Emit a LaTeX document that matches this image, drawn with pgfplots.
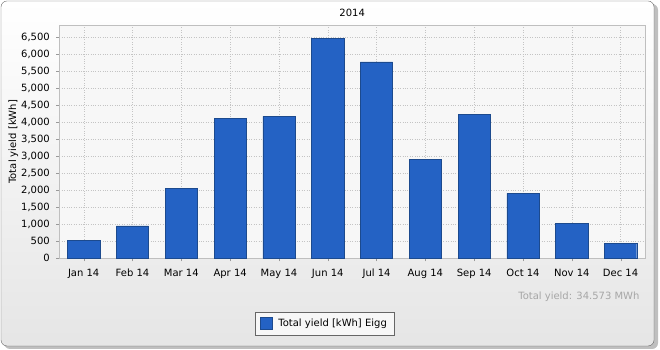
\documentclass[border=0pt]{standalone}
\usepackage{pgfplots}
\pgfplotsset{compat=1.18}
\usepackage{fontspec}
\setmainfont{DejaVu Sans}
\definecolor{barblue}{HTML}{2462C4}
\definecolor{baredge}{HTML}{1C4A8E}
\definecolor{gridgray}{HTML}{C4C4C4}
\begin{document}
\begin{tikzpicture}[x=1pt,y=1pt]
\path (0,0) rectangle (660,350);
% shadow and frame
\fill[black!25, rounded corners=6pt] (4,1) rectangle (658,346);
\shade[top color=white, bottom color=black!10, draw=black!60, rounded corners=6pt] (1,4) rectangle (654,349);
\begin{axis}[
  at={(59.3pt,91.7pt)}, anchor=south west,
  scale only axis, width=585.7pt, height=233pt,
  font=\fontsize{10}{12}\selectfont,
  xmin=-0.5, xmax=11.5, ymin=0, ymax=6853,
  xtick={0,...,11},
  xticklabels={Jan 14,Feb 14,Mar 14,Apr 14,May 14,Jun 14,Jul 14,Aug 14,Sep 14,Oct 14,Nov 14,Dec 14},
  ytick={0,500,...,6500},
  /pgf/number format/.cd, 1000 sep={,}, assume math mode=true,
  /pgfplots/.cd,
  scaled y ticks=false,
  grid=major,
  major grid style={gridgray, dotted},
  axis line style={black!25},
  tick style={black!40},
  tick align=outside,
  major tick length=3pt,
  xtick pos=bottom, ytick pos=left,
  xticklabel style={yshift=-4pt},
  yticklabel style={xshift=-3pt},
  axis background/.style={fill=black!3},
  ylabel={Total yield [kWh]},
  ylabel style={at={(ticklabel cs:0.5)}, yshift=-4pt},
  title={2014},
  title style={at={(0.5,1)}, anchor=center, yshift=6pt},
  legend style={at={(0.4528,-0.2798)}, anchor=center, draw=black!60, fill=black!3,
    inner xsep=5pt, inner ysep=5pt, font=\fontsize{10}{12}\selectfont},
  legend image code/.code={\draw[#1] (0pt,-6pt) rectangle (12pt,6pt); \path[draw=none,fill=none] (0pt,0pt) -- (16pt,0pt);},
]
\addplot[ybar, bar width=0.66, fill=barblue, draw=baredge, bar shift=0pt]
coordinates {(0,529) (1,950) (2,2059) (3,4126) (4,4176) (5,6471) (6,5774) (7,2912) (8,4235) (9,1912) (10,1029) (11,441)};
\addlegendentry{Total yield [kWh] Eigg}
\end{axis}
\node[anchor=east, text=black!35, font=\fontsize{10}{12}\selectfont] at (643,53) {Total yield: 34.573 MWh};
\end{tikzpicture}
\end{document}
